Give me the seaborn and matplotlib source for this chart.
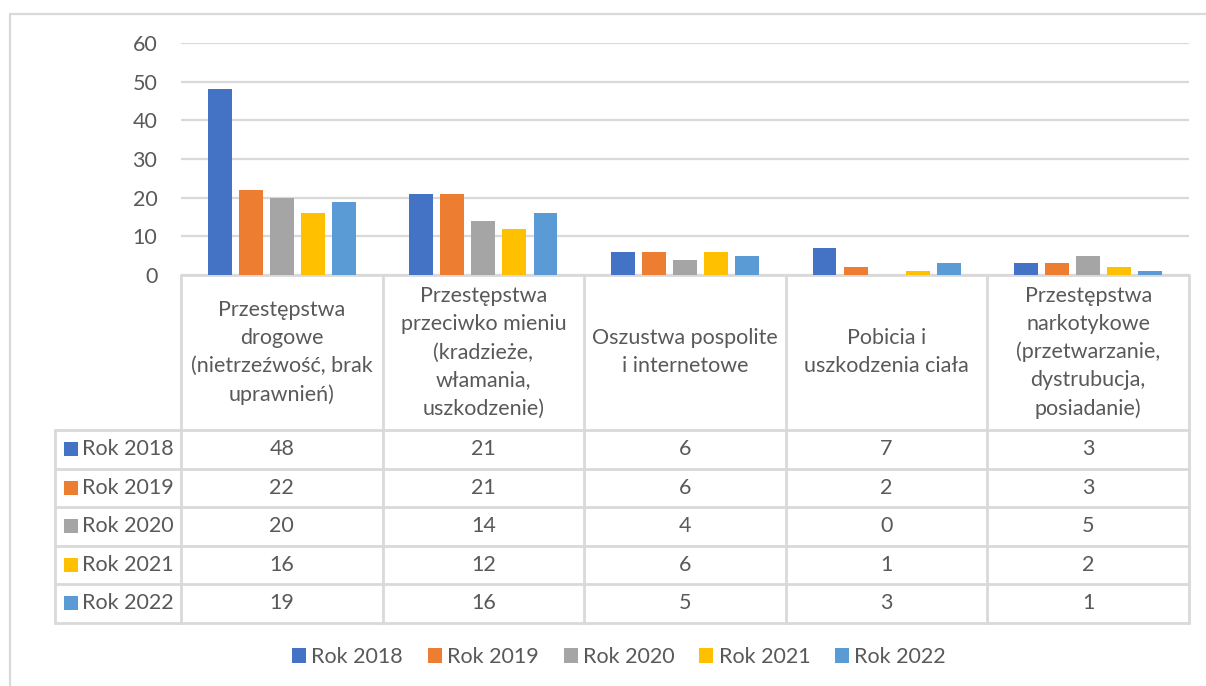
import matplotlib
matplotlib.use("Agg")
import matplotlib.pyplot as plt
from matplotlib.patches import Patch, Rectangle
import seaborn as sns
import pandas as pd

# ---- data ----
categories = [
    "Przestępstwa\ndrogowe\n(nietrzeźwość, brak\nuprawnień)",
    "Przestępstwa\nprzeciwko mieniu\n(kradzieże,\nwłamania,\nuszkodzenie)",
    "Oszustwa pospolite\ni internetowe",
    "Pobicia i\nuszkodzenia ciała",
    "Przestępstwa\nnarkotykowe\n(przetwarzanie,\ndystrubucja,\nposiadanie)",
]
series_names = ["Rok 2018", "Rok 2019", "Rok 2020", "Rok 2021", "Rok 2022"]
rok_2018 = [48, 21, 6, 7, 3]
rok_2019 = [22, 21, 6, 2, 3]
rok_2020 = [20, 14, 4, 0, 5]
rok_2021 = [16, 12, 6, 1, 2]
rok_2022 = [19, 16, 5, 3, 1]
series_values = [rok_2018, rok_2019, rok_2020, rok_2021, rok_2022]
colors = ["#4472C4", "#ED7D31", "#A5A5A5", "#FFC000", "#5B9BD5"]
y_ticks = [0, 10, 20, 30, 40, 50, 60]

rows = []
for name, vals in zip(series_names, series_values):
    for cat, v in zip(categories, vals):
        rows.append({"kategoria": cat, "rok": name, "wartosc": v})
df = pd.DataFrame(rows)

# ---- layout (pixels) ----
W, H = 1206, 686
ax_l, ax_r, ax_top, ax_bot = 181, 1189, 43, 275
hdr_bot = 430
row_h = 38.5
tbl_left = 55
txt_color = "#595959"
line_color = "#D9D9D9"
FONT = ["Lato", "DejaVu Sans"]
fs = 15.5

sns.set_theme(style="white")
plt.rcParams["font.family"] = FONT

fig = plt.figure(figsize=(W / 100, H / 100), dpi=100)

# overlay for table/frame
tab = fig.add_axes([0, 0, 1, 1], zorder=0)
tab.set_xlim(0, W)
tab.set_ylim(H, 0)
tab.axis("off")

ax = fig.add_axes([ax_l / W, 1 - ax_bot / H, (ax_r - ax_l) / W, (ax_bot - ax_top) / H], zorder=1)
ax.patch.set_alpha(0)
sns.barplot(data=df, x="kategoria", y="wartosc", hue="rok", order=categories,
            hue_order=series_names, palette=colors, width=0.77, gap=0.23,
            saturation=1, ax=ax, legend=False, linewidth=0)
ax.set_xlim(-0.5, len(categories) - 0.5)
ax.set_ylim(0, 60)
ax.set_yticks(y_ticks)
ax.set_yticklabels([str(t) for t in y_ticks], fontsize=fs, color=txt_color)
ax.tick_params(axis="y", length=0, pad=17)
ax.set_xticks([])
ax.set_xlabel("")
ax.set_ylabel("")
for s in ax.spines.values():
    s.set_visible(False)
ax.set_axisbelow(True)
ax.yaxis.grid(True, color=line_color, linewidth=1.6)
ax.xaxis.grid(False)

# outer frame
tab.plot([10, W + 5], [14, 14], color=line_color, lw=1.6)
tab.plot([10, 10], [14, H + 5], color=line_color, lw=1.6)

# table grid
ncat = len(categories)
col_w = (ax_r - ax_l) / ncat
tbl_bot = hdr_bot + row_h * len(series_names)
lw = 2.0
tab.plot([ax_l, ax_r], [ax_bot, ax_bot], color=line_color, lw=lw)
for i in range(ncat + 1):
    x = ax_l + i * col_w
    tab.plot([x, x], [ax_bot, tbl_bot], color=line_color, lw=lw)
tab.plot([tbl_left, tbl_left], [hdr_bot, tbl_bot], color=line_color, lw=lw)
for j in range(len(series_names) + 1):
    y = hdr_bot + j * row_h
    tab.plot([tbl_left, ax_r], [y, y], color=line_color, lw=lw)

# header texts
for i, cat in enumerate(categories):
    cx = ax_l + (i + 0.5) * col_w
    tab.text(cx, (ax_bot + hdr_bot) / 2, cat, ha="center", va="center",
             fontsize=fs, color=txt_color, linespacing=1.5, multialignment="center")

# rows
for j, (name, vals, c) in enumerate(zip(series_names, series_values, colors)):
    cy = hdr_bot + (j + 0.5) * row_h
    tab.add_patch(Rectangle((64, cy - 7), 14, 14, color=c, lw=0))
    tab.text(82, cy, name, ha="left", va="center", fontsize=fs, color=txt_color)
    for i, v in enumerate(vals):
        cx = ax_l + (i + 0.5) * col_w
        tab.text(cx, cy, str(v), ha="center", va="center", fontsize=fs, color=txt_color)

# legend
handles = [Patch(facecolor=c, edgecolor="none", label=n) for n, c in zip(series_names, colors)]
leg = fig.legend(handles=handles, loc="center", bbox_to_anchor=(619 / W, 1 - 657 / H),
                 ncol=5, frameon=False, fontsize=fs, handlelength=0.65, handleheight=0.65,
                 handletextpad=0.25, columnspacing=1.15)
for t in leg.get_texts():
    t.set_color(txt_color)

fig.savefig("out.png", dpi=100)
